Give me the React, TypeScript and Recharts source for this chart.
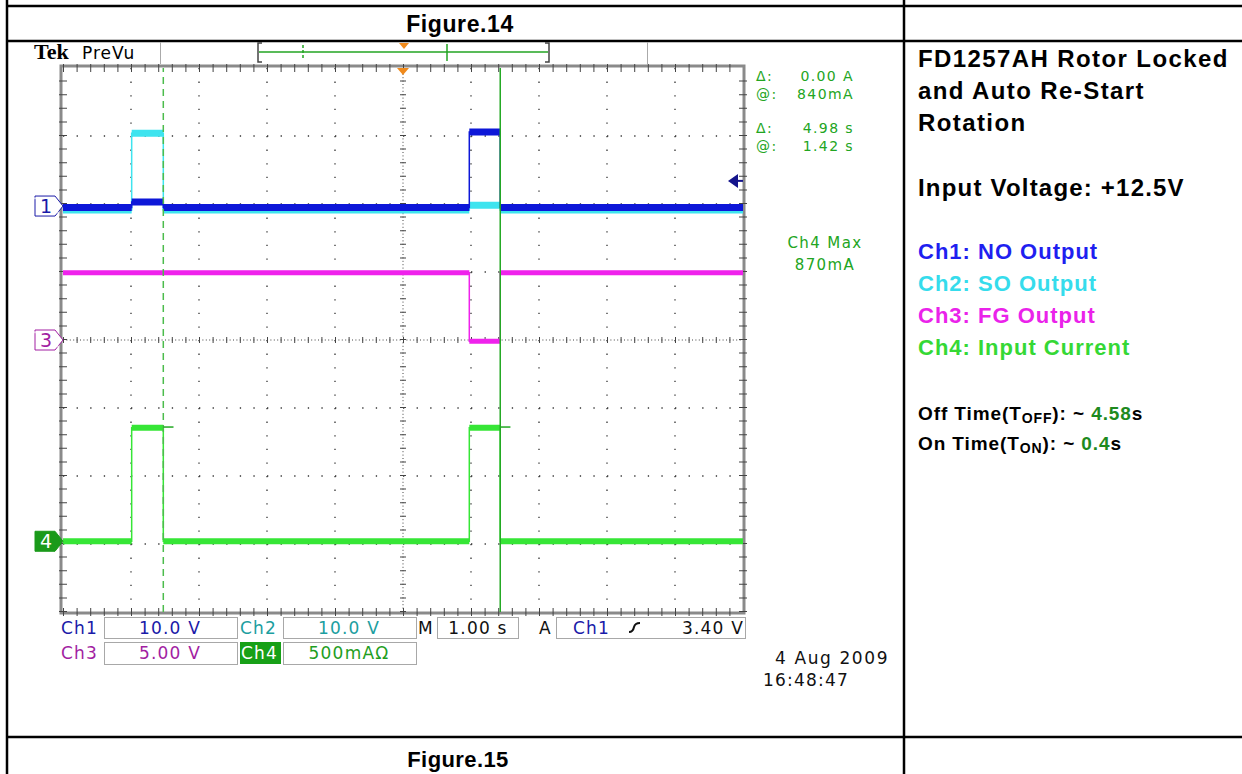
import React from "react";
import {
  LineChart,
  Line,
  XAxis,
  YAxis,
  CartesianGrid,
  ReferenceLine,
  ReferenceDot,
} from "recharts";

// screen is 10 div wide (1 s/div) and 8 div tall, centre = 0
const timeGrid = [1, 2, 3, 4, 6, 7, 8, 9];
const levelGrid = [-3, -2, -1, 1, 2, 3];

// step edges of the two start-up pulses, in div from left edge
const edgeTimes = [0, 1.01, 1.475, 5.975, 6.43, 10];

// trace level for each segment between the edges (div)
const ch1Levels = [1.95, 2.03, 1.95, 3.06, 1.95];
const ch2Levels = [1.91, 3.04, 1.91, 1.98, 1.91];
const ch3Levels = [0.99, 0.99, 0.99, -0.02, 0.99];
const ch4Levels = [-2.96, -1.29, -2.96, -1.29, -2.96];

// ground markers on the left side
const markerLevels = [1.97, 0, -2.96];
const markerLabels = ["1", "3", "4"];

// cursors
const cursorTimes = [1.475, 6.43];
const cursorLevel = -1.28;
const triggerLevel = 2.34;

const BLUE = "#0d17d8";
const CYAN = "#3ee4ef";
const MAGENTA = "#ef22ec";
const GREEN = "#36e636";

function stepData(levels: number[]) {
  const pts: { t: number; v: number | null }[] = [];
  levels.forEach((v, i) => {
    pts.push({ t: edgeTimes[i], v });
    pts.push({ t: edgeTimes[i + 1], v });
  });
  return pts;
}

function bandData(levels: number[]) {
  const pts: { t: number; v: number | null }[] = [];
  levels.forEach((v, i) => {
    if (i > 0) pts.push({ t: edgeTimes[i], v: null });
    pts.push({ t: edgeTimes[i], v });
    pts.push({ t: edgeTimes[i + 1], v });
  });
  return pts;
}

function Marker(props: any) {
  const { cx, cy, label } = props;
  const colors: Record<string, string> = { "1": "#1a1aa8", "3": "#a21ea2", "4": "#1a9a1a" };
  const c = colors[label];
  const filled = label === "4";
  const pts = `${cx - 28},${cy - 10} ${cx - 8},${cy - 10} ${cx},${cy} ${cx - 8},${cy + 10} ${cx - 28},${cy + 10}`;
  return (
    <g>
      <polygon
        points={pts}
        fill={filled ? c : "#fff"}
        stroke={c}
        strokeWidth={1}
        strokeDasharray={filled ? undefined : "40 0 1 1"}
      />
      <text
        x={cx - 17}
        y={cy + 7}
        textAnchor="middle"
        fontFamily="DejaVu Sans"
        fontSize={19}
        fill={filled ? "#fff" : c}
      >
        {label}
      </text>
    </g>
  );
}

function TriggerArrow(props: any) {
  const { cx, cy } = props;
  return (
    <g>
      <polygon points={`${cx - 15},${cy} ${cx - 5},${cy - 7} ${cx - 5},${cy + 7}`} fill="#14148c" />
      <line x1={cx - 6} y1={cy} x2={cx} y2={cy} stroke="#14148c" strokeWidth={2} />
    </g>
  );
}

function TopTrig(props: any) {
  const { cx, cy } = props;
  return <polygon points={`${cx - 6},${cy} ${cx + 6},${cy} ${cx},${cy + 7}`} fill="#f08a1c" />;
}

const mono = "DejaVu Sans";
const arial = "Liberation Sans";

function Scope() {
  return (
    <LineChart
      width={903}
      height={736}
      margin={{ top: 68, left: 63, right: 160, bottom: 124 }}
    >
      <XAxis type="number" dataKey="t" domain={[0, 10]} hide allowDataOverflow />
      <YAxis type="number" domain={[-4, 4]} hide allowDataOverflow />
      <CartesianGrid
        horizontalValues={levelGrid}
        verticalValues={timeGrid}
        stroke="#333"
        strokeWidth={1.3}
        strokeDasharray="1.3 12.3"
      />
      {/* centre cross with minor ticks */}
      <ReferenceLine y={0} stroke="#444" strokeDasharray="1 2.4" />
      <ReferenceLine y={0} stroke="#444" strokeWidth={6} strokeDasharray="1 12.6" />
      <ReferenceLine x={5} stroke="#444" strokeDasharray="1 2.4" />
      <ReferenceLine x={5} stroke="#444" strokeWidth={6} strokeDasharray="1 12.6" />
      {/* edge ticks */}
      <ReferenceLine x={0} stroke="#444" strokeWidth={8} strokeDasharray="1 12.6" />
      <ReferenceLine x={10} stroke="#444" strokeWidth={8} strokeDasharray="1 12.6" />
      <ReferenceLine y={4} stroke="#444" strokeWidth={8} strokeDasharray="1 12.6" />
      <ReferenceLine y={-4} stroke="#444" strokeWidth={8} strokeDasharray="1 12.6" />

      {/* traces: thin edges + thick noisy flats */}
      <Line data={stepData(ch2Levels)} dataKey="v" stroke={CYAN} strokeWidth={1.5} dot={false} isAnimationActive={false} />
      <Line data={bandData(ch2Levels)} dataKey="v" stroke={CYAN} strokeWidth={7} dot={false} isAnimationActive={false} />
      <Line data={stepData(ch1Levels)} dataKey="v" stroke={BLUE} strokeWidth={1.5} dot={false} isAnimationActive={false} />
      <Line data={bandData(ch1Levels)} dataKey="v" stroke={BLUE} strokeWidth={7} dot={false} isAnimationActive={false} />
      <Line data={stepData(ch3Levels)} dataKey="v" stroke={MAGENTA} strokeWidth={1.5} dot={false} isAnimationActive={false} />
      <Line data={bandData(ch3Levels)} dataKey="v" stroke={MAGENTA} strokeWidth={5} dot={false} isAnimationActive={false} />
      <Line data={stepData(ch4Levels)} dataKey="v" stroke={GREEN} strokeWidth={1.5} dot={false} isAnimationActive={false} />
      <Line data={bandData(ch4Levels)} dataKey="v" stroke={GREEN} strokeWidth={6} dot={false} isAnimationActive={false} />

      {/* cursors */}
      <ReferenceLine x={cursorTimes[0]} stroke="#4cbc4c" strokeWidth={1.5} strokeDasharray="7 5" />
      <ReferenceLine x={cursorTimes[1]} stroke="#23a823" strokeWidth={1.5} />
      {cursorTimes.map((t) => (
        <ReferenceLine
          key={t}
          segment={[{ x: t, y: cursorLevel }, { x: t + 0.15, y: cursorLevel }]}
          stroke="#23a823"
          strokeWidth={1.5}
        />
      ))}

      {markerLevels.map((lv, i) => (
        <ReferenceDot
          key={i}
          x={0}
          y={lv}
          ifOverflow="visible"
          shape={(p: any) => <Marker {...p} label={markerLabels[i]} />}
        />
      ))}
      <ReferenceDot x={10} y={triggerLevel} ifOverflow="visible" shape={(p: any) => <TriggerArrow {...p} />} />
      <ReferenceDot x={5} y={4} ifOverflow="visible" shape={(p: any) => <TopTrig {...p} />} />
    </LineChart>
  );
}

function Box({ x, y, w, h }: { x: number; y: number; w: number; h: number }) {
  return <rect x={x + 0.5} y={y + 0.5} width={w} height={h} fill="none" stroke="#a8a8a8" />;
}

export default function App() {
  const t = { fontFamily: mono, fontSize: 17, letterSpacing: 1.2 };
  const g = { fontFamily: mono, fontSize: 14, letterSpacing: 1.4, fill: "#22a522" };
  const p = { fontFamily: arial, fontWeight: 700, fontSize: 24, letterSpacing: 1.4 };
  const q = { fontFamily: arial, fontWeight: 700, fontSize: 22, letterSpacing: 1 };
  const r = { fontFamily: arial, fontWeight: 700, fontSize: 19, letterSpacing: 0.9 };
  return (
    <div style={{ position: "absolute", left: 0, top: 0, width: 1242, height: 774, background: "#fff", overflow: "hidden" }}>
      <svg width={1242} height={774} style={{ position: "absolute", left: 0, top: 0 }}>
        {/* table rules */}
        <g stroke="#000" strokeWidth={2.5}>
          <line x1={6} y1={6} x2={1242} y2={6} />
          <line x1={6} y1={41} x2={1242} y2={41} />
          <line x1={6} y1={737} x2={1242} y2={737} />
          <line x1={7} y1={0} x2={7} y2={774} />
          <line x1={904} y1={0} x2={904} y2={774} />
        </g>
        <text x={460} y={32} textAnchor="middle" {...p} fontSize={23} letterSpacing={0.6}>Figure.14</text>
        <text x={458} y={767} textAnchor="middle" {...p} fontSize={22} letterSpacing={0.4}>Figure.15</text>

        {/* scope header */}
        <text x={34} y={59} fontFamily="Liberation Serif" fontWeight={700} fontSize={22}>Tek</text>
        <text x={82} y={59} fontFamily={mono} fontSize={17} letterSpacing={1}>PreVu</text>
        <line x1={160.5} y1={42} x2={160.5} y2={64} stroke="#aaa" />
        <line x1={647.5} y1={42} x2={647.5} y2={64} stroke="#aaa" />
        <path d="M262,43 H258 V62 H262 M545,43 H549 V62 H545" fill="none" stroke="#444" strokeWidth={1.5} />
        <line x1={259} y1={52} x2={548} y2={52} stroke="#22a522" strokeWidth={1.5} />
        <line x1={303} y1={45} x2={303} y2={60} stroke="#22a522" strokeWidth={1.5} strokeDasharray="3 2" />
        <line x1={447} y1={44} x2={447} y2={61} stroke="#22a522" strokeWidth={1.5} />
        <polygon points="399,43 409,43 404,49" fill="#f08a1c" />

        {/* graticule frame */}
        <rect x={61} y={66} width={683} height={547} fill="none" stroke="#8a8a8a" strokeWidth={3} />

        {/* cursor readouts */}
        <g {...g}>
          <text x={756} y={81}>Δ:</text>
          <text x={854} y={81} textAnchor="end">0.00 A</text>
          <text x={756} y={99}>@:</text>
          <text x={854} y={99} textAnchor="end">840mA</text>
          <text x={756} y={133}>Δ:</text>
          <text x={854} y={133} textAnchor="end">4.98 s</text>
          <text x={756} y={151}>@:</text>
          <text x={854} y={151} textAnchor="end">1.42 s</text>
          <text x={825} y={248} textAnchor="middle" fontSize={15}>Ch4 Max</text>
          <text x={825} y={270} textAnchor="middle" fontSize={15}>870mA</text>
        </g>

        {/* bottom readouts */}
        <Box x={104} y={617} w={133} h={21} />
        <Box x={283} y={617} w={133} h={21} />
        <Box x={437} y={617} w={81} h={21} />
        <Box x={556} y={617} w={189} h={21} />
        <Box x={104} y={642} w={133} h={22} />
        <Box x={283} y={642} w={133} h={22} />
        <rect x={240} y={642} width={41} height={22} fill="#17a017" />
        <g {...t}>
          <text x={61} y={634} fill="#1a1aa8">Ch1</text>
          <text x={170} y={634} textAnchor="middle" fill="#1a1aa8">10.0 V</text>
          <text x={240} y={634} fill="#1c9ea0">Ch2</text>
          <text x={349} y={634} textAnchor="middle" fill="#1c9ea0">10.0 V</text>
          <text x={418} y={634} fill="#111">M</text>
          <text x={478} y={634} textAnchor="middle" fill="#111">1.00 s</text>
          <text x={539} y={634} fill="#111">A</text>
          <text x={573} y={634} fill="#1a1aa8">Ch1</text>
          <text x={744} y={634} textAnchor="end" fill="#111">3.40 V</text>
          <text x={61} y={659} fill="#a21ea2">Ch3</text>
          <text x={170} y={659} textAnchor="middle" fill="#a21ea2">5.00 V</text>
          <text x={241} y={659} fill="#fff">Ch4</text>
          <text x={349} y={659} textAnchor="middle" fill="#1f9e1f">500mAΩ</text>
          <text x={775} y={664} fill="#111" letterSpacing={1.6}>4 Aug 2009</text>
          <text x={763} y={686} fill="#111" letterSpacing={1.2}>16:48:47</text>
        </g>
        <path d="M629,632 Q633,632 634,627 Q635,623 640,623" fill="none" stroke="#111" strokeWidth={2} />

        {/* description column */}
        <g {...p}>
          <text x={918} y={67}>FD1257AH Rotor Locked</text>
          <text x={918} y={99}>and Auto Re-Start</text>
          <text x={918} y={131}>Rotation</text>
          <text x={918} y={196} letterSpacing={1.2}>Input Voltage: +12.5V</text>
        </g>
        <g {...q}>
          <text x={918} y={259} fill="#1f1ff0">Ch1: NO Output</text>
          <text x={918} y={291} fill="#35dcec">Ch2: SO Output</text>
          <text x={918} y={323} fill="#ea22ea">Ch3: FG Output</text>
          <text x={918} y={355} fill="#35d835">Ch4: Input Current</text>
        </g>
        <g {...r}>
          <text x={918} y={420}>
            Off Time(T<tspan fontSize={14} dy={3}>OFF</tspan><tspan dy={-3}>): ~ </tspan>
            <tspan fill="#1e8a1e">4.58</tspan>s
          </text>
          <text x={918} y={450}>
            On Time(T<tspan fontSize={14} dy={3}>ON</tspan><tspan dy={-3}>): ~ </tspan>
            <tspan fill="#1e8a1e">0.4</tspan>s
          </text>
        </g>
      </svg>
      <div style={{ position: "absolute", left: 0, top: 0 }}>
        <Scope />
      </div>
    </div>
  );
}
